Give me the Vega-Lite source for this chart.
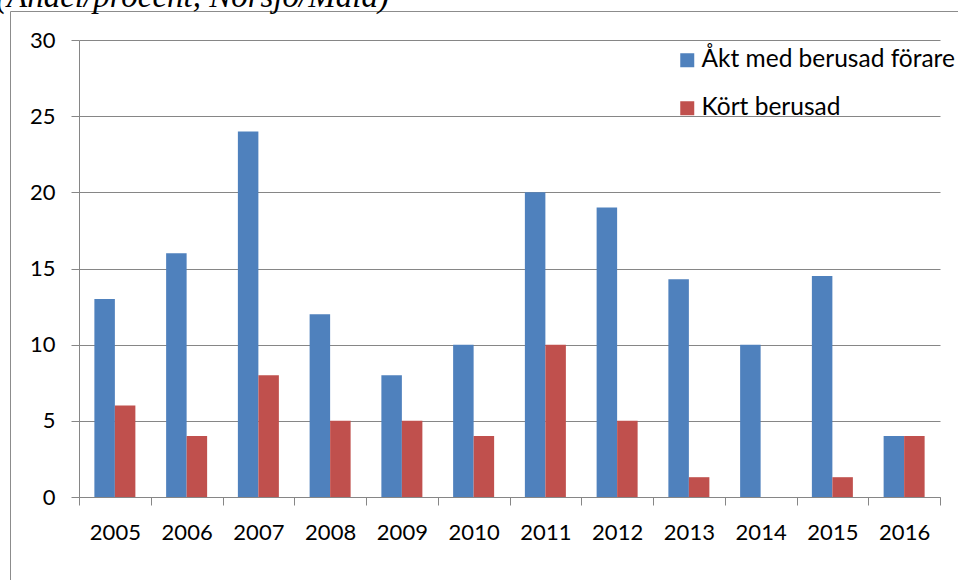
{
  "$schema": "https://vega.github.io/schema/vega-lite/v6.json",
  "width": 948,
  "height": 569,
  "autosize": {"type": "none"},
  "padding": {"left": 10, "top": 11, "right": 0, "bottom": 0},
  "background": "white",
  "config": {"view": {"stroke": "#8c8c8c", "strokeWidth": 1}, "font": "Lato"},
  "title": {
    "text": "(Andel/procent, Norsjö/Malå)",
    "anchor": "start",
    "frame": "group",
    "font": "Liberation Serif",
    "fontStyle": "italic",
    "fontWeight": "normal",
    "fontSize": 33,
    "color": "black",
    "baseline": "alphabetic",
    "offset": -29,
    "dx": -14
  },
  "data": {
    "values": [
      {"year": "2005", "serie": "Åkt med berusad förare", "value": 13},
      {"year": "2005", "serie": "Kört berusad", "value": 6},
      {"year": "2006", "serie": "Åkt med berusad förare", "value": 16},
      {"year": "2006", "serie": "Kört berusad", "value": 4},
      {"year": "2007", "serie": "Åkt med berusad förare", "value": 24},
      {"year": "2007", "serie": "Kört berusad", "value": 8},
      {"year": "2008", "serie": "Åkt med berusad förare", "value": 12},
      {"year": "2008", "serie": "Kört berusad", "value": 5},
      {"year": "2009", "serie": "Åkt med berusad förare", "value": 8},
      {"year": "2009", "serie": "Kört berusad", "value": 5},
      {"year": "2010", "serie": "Åkt med berusad förare", "value": 10},
      {"year": "2010", "serie": "Kört berusad", "value": 4},
      {"year": "2011", "serie": "Åkt med berusad förare", "value": 20},
      {"year": "2011", "serie": "Kört berusad", "value": 10},
      {"year": "2012", "serie": "Åkt med berusad förare", "value": 19},
      {"year": "2012", "serie": "Kört berusad", "value": 5},
      {"year": "2013", "serie": "Åkt med berusad förare", "value": 14.3},
      {"year": "2013", "serie": "Kört berusad", "value": 1.3},
      {"year": "2014", "serie": "Åkt med berusad förare", "value": 10},
      {"year": "2014", "serie": "Kört berusad", "value": 0},
      {"year": "2015", "serie": "Åkt med berusad förare", "value": 14.5},
      {"year": "2015", "serie": "Kört berusad", "value": 1.3},
      {"year": "2016", "serie": "Åkt med berusad förare", "value": 4},
      {"year": "2016", "serie": "Kört berusad", "value": 4}
    ]
  },
  "mark": {"type": "bar"},
  "encoding": {
    "x": {
      "field": "year",
      "type": "nominal",
      "scale": {"range": [69, 930], "paddingInner": 0, "paddingOuter": 0},
      "axis": {
        "title": null,
        "labelAngle": 0,
        "offset": -83,
        "tickBand": "extent",
        "tickSize": 8,
        "labelPadding": 17,
        "labelFontSize": 22,
        "labelFont": "Lato",
        "labelColor": "black",
        "domainColor": "#868686",
        "tickColor": "#868686",
        "grid": false
      }
    },
    "xOffset": {
      "field": "serie",
      "scale": {"domain": ["Åkt med berusad förare", "Kört berusad"], "paddingOuter": 0.75, "paddingInner": 0}
    },
    "y": {
      "field": "value",
      "type": "quantitative",
      "scale": {"domain": [0, 30], "range": [486, 29], "nice": false},
      "axis": {
        "title": null,
        "values": [0, 5, 10, 15, 20, 25, 30],
        "offset": -69,
        "tickSize": 8,
        "labelPadding": 16,
        "labelFontSize": 22,
        "labelFont": "Lato",
        "labelColor": "black",
        "domainColor": "#868686",
        "tickColor": "#868686",
        "gridColor": "#868686",
        "grid": true
      }
    },
    "color": {
      "field": "serie",
      "type": "nominal",
      "scale": {"domain": ["Åkt med berusad förare", "Kört berusad"], "range": ["#4F81BD", "#C0504D"]},
      "legend": {
        "title": null,
        "orient": "none",
        "legendX": 665,
        "legendY": 37,
        "symbolType": "square",
        "symbolSize": 196,
        "symbolStrokeWidth": 0,
        "labelFontSize": 24.5,
        "labelFont": "Lato",
        "labelColor": "black",
        "rowPadding": 23,
        "labelOffset": 2,
        "padding": 0,
        "labelLimit": 400
      }
    }
  }
}
